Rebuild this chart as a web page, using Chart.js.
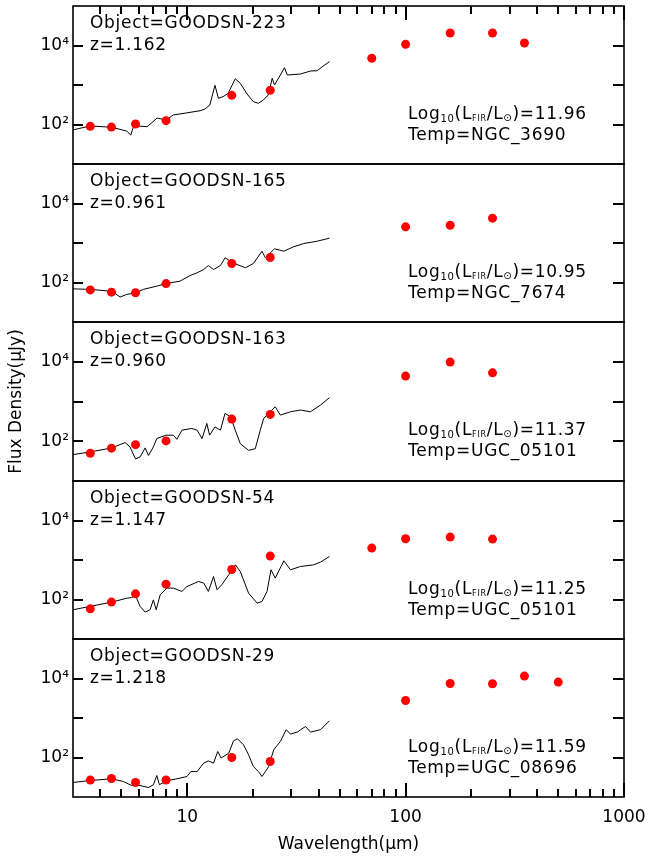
<!DOCTYPE html>
<html>
<head>
<meta charset="utf-8">
<title>SED fits</title>
<script src="https://cdn.jsdelivr.net/npm/chart.js@4.4.1/dist/chart.umd.min.js"></script>
<style>
  html, body { margin: 0; padding: 0; background: #fff; }
  #wrap { position: relative; width: 649px; height: 859px; overflow: hidden; }
  #wrap canvas { position: absolute; left: 0; }
</style>
</head>
<body>
<div id="wrap"></div>
<script>
// photometric bands (micron)
const bands = [3.6, 4.5, 5.8, 8.0, 16, 24, 70, 100, 160, 250, 350, 500];

const objNames  = ["GOODSN-223", "GOODSN-165", "GOODSN-163", "GOODSN-54", "GOODSN-29"];
const redshifts = ["1.162", "0.961", "0.960", "1.147", "1.218"];
const logLfir   = ["11.96", "10.95", "11.37", "11.25", "11.59"];
const tempNames = ["NGC_3690", "NGC_7674", "UGC_05101", "UGC_05101", "UGC_08696"];

// observed flux densities (uJy), null = not observed
const flux223 = [90, 86, 103, 125, 548, 735, 4740, 10700, 20700, 20700, 11560, null];
const flux165 = [65, 57, 55, 94, 303, 430, null, 2570, 2820, 4250, null, null];
const flux163 = [50, 67, 82, 102, 361, 474, null, 4350, 9820, 5270, null, null];
const flux54  = [58, 86, 139, 245, 574, 1256, 2000, 3440, 3800, 3380, null, null];
const flux29  = [26.8, 29.4, 23.3, 26.8, 100, 79, null, 2770, 7470, 7340, 11500, 8110];

// best-fit templates, wavelength (micron) / flux (uJy)
const tplWave223 = [3.0, 3.6, 4.52, 5.29, 5.52, 5.65, 5.9, 6.55, 6.89, 7.28, 8.0, 8.63, 9.9, 11.45, 12.07, 12.7, 13.4, 13.9, 14.6, 15.4, 16.6, 17.5, 18.8, 20.1, 21.2, 22.3, 23.5, 24.5, 25.1, 26.7, 27.9, 28.7, 33.0, 36.7, 39.4, 41.5, 44.8];
const tplFlux223 = [73, 92, 85, 68, 54, 82, 92, 88, 111, 146, 130, 174, 196, 223, 247, 312, 982, 460, 506, 617, 1442, 1104, 592, 378, 344, 417, 558, 1479, 1000, 1791, 2742, 1791, 1897, 2259, 2302, 2904, 3890];

const tplWave165 = [3.0, 3.6, 4.52, 4.93, 5.29, 5.8, 6.30, 7.26, 8.0, 9.27, 10.3, 11.1, 11.9, 12.5, 13.2, 14.2, 14.9, 15.8, 16.9, 18.5, 20.1, 22.0, 22.8, 25.1, 27.7, 30.7, 34.2, 39.4, 44.8];
const tplFlux165 = [69, 67, 60, 43, 50, 55, 67, 81, 94, 108, 150, 176, 213, 269, 213, 269, 422, 346, 286, 236, 303, 620, 422, 713, 620, 802, 971, 1111, 1324];

const tplWave163 = [3.0, 3.6, 4.52, 5.20, 5.47, 5.8, 6.08, 6.42, 6.65, 7.0, 7.26, 8.0, 8.65, 8.97, 9.46, 10.5, 11.1, 11.7, 12.3, 12.66, 13.4, 14.2, 14.9, 15.8, 16.6, 17.5, 19.1, 20.5, 21.6, 22.4, 23.2, 25.3, 26.7, 29.7, 33.0, 36.7, 40.8, 44.8];
const tplFlux163 = [46, 54, 68, 93, 72, 36, 40, 68, 44, 72, 117, 142, 142, 112, 190, 210, 190, 117, 281, 142, 230, 190, 502, 412, 190, 87, 59, 65, 190, 376, 455, 738, 455, 552, 609, 552, 815, 1247];

const tplWave54 = [3.0, 3.6, 4.52, 5.29, 5.57, 5.8, 6.08, 6.42, 6.76, 7.0, 7.21, 7.52, 8.07, 8.65, 9.46, 9.97, 11.27, 11.9, 12.5, 13.2, 13.7, 14.4, 15.5, 16.6, 17.5, 19.1, 20.9, 22.0, 23.2, 24.2, 25.3, 27.7, 29.7, 33.0, 37.9, 40.8, 44.8];
const tplFlux54 = [55, 67, 86, 108, 112, 126, 67, 48, 55, 98, 55, 131, 194, 194, 160, 213, 286, 260, 160, 382, 176, 236, 422, 755, 512, 145, 81, 89, 160, 565, 348, 955, 565, 684, 755, 885, 1227];

const tplWave29 = [3.0, 3.6, 4.52, 5.10, 5.57, 6.08, 6.65, 7.0, 7.26, 7.46, 8.0, 8.97, 9.97, 10.4, 11.1, 11.9, 12.5, 13.2, 13.8, 14.3, 15.5, 16.3, 17.0, 18.1, 19.1, 20.1, 21.2, 22.0, 22.8, 23.6, 24.9, 26.7, 28.4, 29.7, 31.9, 34.8, 36.7, 40.8, 44.8];
const tplFlux29 = [23.3, 26.2, 28.9, 24.7, 19.5, 19.5, 17.4, 20.4, 35, 20.4, 25.7, 28.9, 33, 44, 44, 72, 82, 72, 142, 97, 129, 265, 297, 210, 117, 59, 44, 33, 44, 59, 157, 254, 506, 391, 440, 609, 440, 506, 849];

// tick values
const xMajor = [10, 100, 1000];
const xMinor = [4, 5, 6, 7, 8, 9, 20, 30, 40, 50, 60, 70, 80, 90, 200, 300, 400, 500, 600, 700, 800, 900];
const yTicks = [100, 1000, 10000];

const fluxes = [flux223, flux165, flux163, flux54, flux29];
const tplWaves = [tplWave223, tplWave165, tplWave163, tplWave54, tplWave29];
const tplFluxes = [tplFlux223, tplFlux165, tplFlux163, tplFlux54, tplFlux29];

const FONT = '"DejaVu Sans", sans-serif';
Chart.defaults.font.family = FONT;
Chart.defaults.font.size = 17;
Chart.defaults.color = "#000";

// panel geometry (plot area tops, last bottom)
const panelTops = [6, 164, 322, 481, 639];
const panelBottom = 797;
const PAD = 24; // canvases overlap so the y title fits

function drawRich(ctx, x, y, parts) {
  parts.forEach(([txt, size, dy]) => {
    ctx.font = size + "px " + FONT;
    ctx.fillText(txt, x, y + dy);
    x += ctx.measureText(txt).width;
  });
}

// frame, inward ticks and text labels for panel i
function makeFrame(i, xEdge) {
  return {
    id: "frame" + i,
    afterDraw(chart) {
      const ctx = chart.ctx;
      const a = chart.chartArea;
      const xs = chart.scales.x, ys = chart.scales.y;
      ctx.save();
      ctx.fillStyle = "#000";

      // tick marks (inward)
      yTicks.forEach(v => {
        const py = Math.round(ys.getPixelForValue(v));
        ctx.fillRect(a.left, py - 1, 10, 2);
        ctx.fillRect(a.right - 11, py - 1, 11, 2);
      });
      if (xEdge) {
        xMinor.concat(xMajor).forEach(v => {
          const len = xMajor.includes(v) ? 14 : 8;
          const px = Math.round(xs.getPixelForValue(v));
          if (xEdge === "top") ctx.fillRect(px - 1, a.top, 2, len);
          else ctx.fillRect(px - 1, a.bottom - len, 2, len);
        });
      }

      // frame
      ctx.strokeStyle = "#000";
      ctx.lineWidth = 1.6;
      ctx.strokeRect(a.left, a.top, a.right - a.left, a.bottom - a.top);

      ctx.textBaseline = "alphabetic";
      ctx.textAlign = "left";
      ctx.letterSpacing = "0.7px";
      ctx.font = "17px " + FONT;
      ctx.fillText("Object=" + objNames[i], 90, a.top + 22);
      ctx.fillText("z=" + redshifts[i], 90, a.top + 44);
      drawRich(ctx, 408, a.top + 113, [
        ["Log", 17, 0], ["10", 10, 3], ["(L", 17, 0], ["FIR", 8, 2],
        ["/L", 17, 0], ["\u2299", 10, 2], [")=" + logLfir[i], 17, 0]
      ]);
      ctx.font = "17px " + FONT;
      ctx.fillText("Temp=" + tempNames[i], 408, a.top + 134);
      ctx.restore();
    }
  };
}

const wrap = document.getElementById("wrap");

for (let i = 0; i < 5; i++) {
  const last = i === 4;
  const top = panelTops[i];
  const bottom = last ? panelBottom : panelTops[i + 1];
  const canvas = document.createElement("canvas");
  canvas.width = 649;
  canvas.height = (bottom - top) + PAD + (last ? 62 : PAD);
  canvas.style.top = (top - PAD) + "px";
  wrap.appendChild(canvas);

  const obs = bands.map((b, k) => ({ x: b, y: fluxes[i][k] })).filter(p => p.y != null);
  const tpl = tplWaves[i].map((w, k) => ({ x: w, y: tplFluxes[i][k] }));
  const xEdge = i === 0 ? "top" : (last ? "bottom" : "");

  new Chart(canvas, {
    type: "scatter",
    data: {
      datasets: [
        { data: obs, backgroundColor: "#ff0000", borderWidth: 0, pointRadius: 4.5, order: 0 },
        { data: tpl, showLine: true, borderColor: "#000", borderWidth: 1, pointRadius: 0, order: 1 }
      ]
    },
    options: {
      responsive: false,
      animation: false,
      devicePixelRatio: 1,
      events: [],
      layout: { padding: { top: PAD, bottom: last ? 0 : PAD, left: 0, right: 25 } },
      plugins: {
        legend: { display: false },
        tooltip: { enabled: false }
      },
      scales: {
        x: {
          type: "logarithmic", min: 3, max: 1000,
          display: last,
          grid: { display: false, drawTicks: false },
          border: { display: false },
          afterBuildTicks: s => { s.ticks = xMajor.map(v => ({ value: v })); },
          ticks: { autoSkip: false, maxRotation: 0, padding: 10, callback: v => String(v) },
          title: { display: true, text: "Wavelength(\u03bcm)", padding: { top: 0, bottom: 4 } },
          afterFit: s => {
            if (!last) return;
            s.height = 62;
            s.paddingLeft = 0;
            s.paddingRight = 0;
          }
        },
        y: {
          type: "logarithmic", min: 10, max: 100000,
          grid: { display: false, drawTicks: false },
          border: { display: false },
          afterBuildTicks: s => { s.ticks = yTicks.map(v => ({ value: v })); },
          ticks: {
            autoSkip: false, padding: 4,
            callback: v => v === 100 ? "10\u00b2" : (v === 10000 ? "10\u2074" : "")
          },
          title: { display: i === 2, text: "Flux Density(\u03bcJy)", padding: { top: 6, bottom: 0 } },
          afterFit: s => { s.width = 73; }
        }
      }
    },
    plugins: [makeFrame(i, xEdge)]
  });
}
</script>
</body>
</html>
